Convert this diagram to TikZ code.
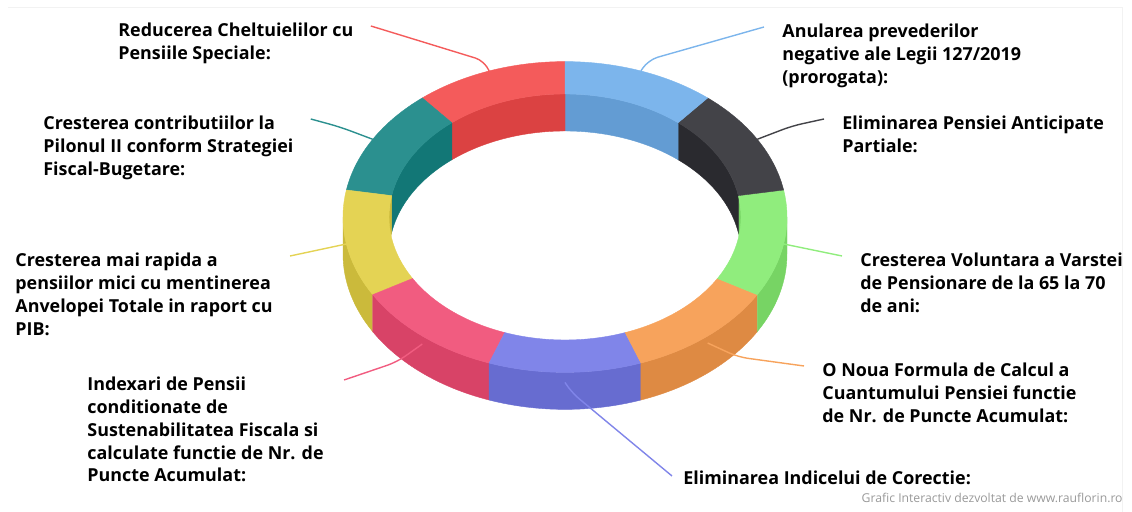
\documentclass[tikz,border=0pt]{standalone}
\usepackage{fontspec}
\setmainfont{Open Sans}
\usetikzlibrary{calc}
\definecolor{topred}{HTML}{F45B5B}
\definecolor{sidered}{HTML}{DB4242}
\definecolor{topteal}{HTML}{2B908F}
\definecolor{sideteal}{HTML}{127776}
\definecolor{topyellow}{HTML}{E4D354}
\definecolor{sideyellow}{HTML}{CBBA3B}
\definecolor{toppink}{HTML}{F15C80}
\definecolor{sidepink}{HTML}{D84367}
\definecolor{toppurple}{HTML}{8085E9}
\definecolor{sidepurple}{HTML}{676CD0}
\definecolor{toporange}{HTML}{F7A35C}
\definecolor{sideorange}{HTML}{DE8A43}
\definecolor{topgreen}{HTML}{90ED7D}
\definecolor{sidegreen}{HTML}{77D464}
\definecolor{topblack}{HTML}{434348}
\definecolor{sideblack}{HTML}{2A2A2F}
\definecolor{topblue}{HTML}{7CB5EC}
\definecolor{sideblue}{HTML}{639CD3}
\definecolor{footgray}{HTML}{999999}

\begin{document}
\begin{tikzpicture}[x=0.5pt,y=0.5pt,
  lbl/.style={font=\bfseries\fontsize{8.95pt}{11.35pt}\selectfont,align=left,inner sep=0pt,anchor=north west},
  conn/.style={line width=0.7pt,rounded corners=5pt}]
\def\rxo{222}\def\ryo{155.4}
\def\rxi{176}\def\ryi{123}
\def\dep{37}
\useasboundingbox (0,0) rectangle (1132,512);
\draw[black!5,line width=0.5pt] (8,504) -- (1122,504) -- (1122,0);

\coordinate (C) at (565,295);

% inner walls, back half
\foreach \s/\e/\c in {0/10/green,10/50/black,50/90/blue,90/130/red,130/170/teal,170/180/yellow}
  \filldraw[fill=side\c,draw=side\c,line width=0.2pt] ($(C)+({\rxi*cos(\s)},{\ryi*sin(\s)})$)
    arc[start angle=\s,end angle=\e,x radius=\rxi,y radius=\ryi] -- ++(0,-\dep)
    arc[start angle=\e,end angle=\s,x radius=\rxi,y radius=\ryi] -- cycle;

% outer walls, front half
\foreach \s/\e/\c in {180/210/yellow,210/250/pink,250/290/purple,290/330/orange,330/360/green}
  \filldraw[fill=side\c,draw=side\c,line width=0.2pt] ($(C)+({\rxo*cos(\s)},{\ryo*sin(\s)})$)
    arc[start angle=\s,end angle=\e,x radius=\rxo,y radius=\ryo] -- ++(0,-\dep)
    arc[start angle=\e,end angle=\s,x radius=\rxo,y radius=\ryo] -- cycle;

% top faces
\foreach \s/\c in {90/red,130/teal,170/yellow,210/pink,250/purple,290/orange,330/green,10/black,50/blue}{
  \pgfmathsetmacro\e{\s+40}
  \filldraw[fill=top\c,draw=top\c,line width=0.2pt] ($(C)+({\rxo*cos(\s)},{\ryo*sin(\s)})$)
    arc[start angle=\s,end angle=\e,x radius=\rxo,y radius=\ryo] -- ($(C)+({\rxi*cos(\e)},{\ryi*sin(\e)})$)
    arc[start angle=\e,end angle=\s,x radius=\rxi,y radius=\ryi] -- cycle;
}

% labels
\node[lbl] (tRed) at (118,489) {Reducerea Cheltuielilor cu\\Pensiile Speciale:};
\node[lbl] (tTeal) at (43,396) {Cresterea contributiilor la\\Pilonul II conform Strategiei\\Fiscal-Bugetare:};
\node[lbl] (tYellow) at (15,259) {Cresterea mai rapida a\\pensiilor mici cu mentinerea\\Anvelopei Totale in raport cu\\PIB:};
\node[lbl] (tPink) at (87,135) {Indexari de Pensii\\conditionate de\\Sustenabilitatea Fiscala si\\calculate functie de Nr. de\\Puncte Acumulat:};
\node[lbl] (tBlue) at (782,488) {Anularea prevederilor\\negative ale Legii 127/2019\\(prorogata):};
\node[lbl] (tBlack) at (842,396) {Eliminarea Pensiei Anticipate\\Partiale:};
\node[lbl] (tGreen) at (860,259) {Cresterea Voluntara a Varstei\\de Pensionare de la 65 la 70\\de ani:};
\node[lbl] (tOrange) at (822,149) {O Noua Formula de Calcul a\\Cuantumului Pensiei functie\\de Nr. de Puncte Acumulat:};
\node[lbl] (tPurple) at (683,41) {Eliminarea Indicelui de Corectie:};

% connector ends
\coordinate (pRed) at ($(C)+({\rxo*cos(110)},{\ryo*sin(110)})$);
\coordinate (pTeal) at ($(C)+({\rxo*cos(150)},{\ryo*sin(150)})$);
\coordinate (pYellow) at ($(C)+({\rxo*cos(190)},{\ryo*sin(190)})$);
\coordinate (pPink) at ($(C)+({\rxo*cos(230)},{\ryo*sin(230)-8})$);
\coordinate (pPurple) at ($(C)+(0,{-\ryo-10})$);
\coordinate (pOrange) at ($(C)+({\rxo*cos(310)},{\ryo*sin(310)-7})$);
\coordinate (pGreen) at ($(C)+({\rxo*cos(350)},{\ryo*sin(350)})$);
\coordinate (pBlack) at ($(C)+({\rxo*cos(30)},{\ryo*sin(30)})$);
\coordinate (pBlue) at ($(C)+({\rxo*cos(70)},{\ryo*sin(70)})$);

\coordinate (kRed) at ($(tRed.north east)+(17,-3)$);
\coordinate (kTeal) at ($(tTeal.north east)+(17,-3)$);
\coordinate (kYellow) at ($(tYellow.north east)+(17,-3)$);
\coordinate (kPink) at ($(tPink.north east)+(20,-3)$);
\coordinate (kBlue) at ($(tBlue.north west)+(-18,-3)$);
\coordinate (kBlack) at ($(tBlack.north west)+(-18,-3)$);
\coordinate (kGreen) at ($(tGreen.north west)+(-18,-3)$);
\coordinate (kOrange) at ($(tOrange.north west)+(-18,-3)$);
\coordinate (kPurple) at ($(tPurple.north west)+(-11,-5)$);

\coordinate (nRed) at (485,451);
\coordinate (nBlue) at (648,452);
\coordinate (nTeal) at (340,385);
\coordinate (nBlack) at (792,386);
\coordinate (nPink) at (397,150);
\coordinate (nOrange) at (738,155);
\coordinate (nPurple) at (571,120);

\draw[conn,topred] (kRed) -- (nRed) -- (pRed);
\draw[conn,topblue] (kBlue) -- (nBlue) -- (pBlue);
\draw[conn,topteal] (kTeal) -- (nTeal) -- (pTeal);
\draw[conn,topblack] (kBlack) -- (nBlack) -- (pBlack);
\draw[conn,topyellow] (kYellow) -- (pYellow);
\draw[conn,topgreen] (kGreen) -- (pGreen);
\draw[conn,toppink] (kPink) -- (nPink) -- (pPink);
\draw[conn,toporange] (kOrange) -- (nOrange) -- (pOrange);
\draw[conn,toppurple] (kPurple) -- (nPurple) -- (pPurple);

\node[font=\fontsize{6.1pt}{7.5pt}\selectfont,text=footgray,anchor=base east,inner sep=0pt] (credit) at (1123,9) {Grafic Interactiv dezvoltat de www.rauflorin.ro};
\end{tikzpicture}
\end{document}
